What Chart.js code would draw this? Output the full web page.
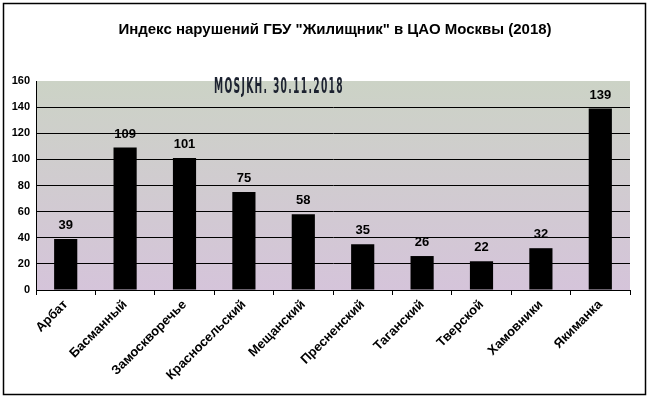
<!DOCTYPE html>
<html>
<head>
<meta charset="utf-8">
<script src="https://cdn.jsdelivr.net/npm/chart.js@4"></script>
<style>
  html, body { margin: 0; padding: 0; background: #fff; }
  #wrap { width: 649px; height: 398px; position: relative; }
</style>
</head>
<body>
<div id="wrap"><canvas id="plot" width="649" height="398"></canvas></div>
<script>
const districts = ['Арбат', 'Басманный', 'Замоскворечье', 'Красносельский', 'Мещанский',
  'Пресненский', 'Таганский', 'Тверской', 'Хамовники', 'Якиманка'];
const violations = [39, 109, 101, 75, 58, 35, 26, 22, 32, 139];
const yTicks = [0, 20, 40, 60, 80, 100, 120, 140, 160];
const titleText = 'Индекс нарушений ГБУ "Жилищник" в ЦАО Москвы (2018)';
const stampText = 'MOSJKH. 30.11.2018';

// frame, title, plot background, value labels
const decor = {
  id: 'decor',
  beforeDraw(chart) {
    const ctx = chart.ctx, a = chart.chartArea;
    ctx.save();
    const g = ctx.createLinearGradient(0, a.top, 0, a.bottom);
    g.addColorStop(0, '#ccd3c6');
    g.addColorStop(1, '#d5c4da');
    ctx.fillStyle = g;
    ctx.fillRect(a.left, a.top, a.right - a.left, a.bottom - a.top);
    ctx.restore();
  },
  afterDatasetsDraw(chart) {
    const ctx = chart.ctx;
    ctx.save();
    ctx.fillStyle = '#000';
    ctx.textAlign = 'center';
    ctx.textBaseline = 'bottom';
    ctx.font = 'bold 13px "Liberation Sans", Arial';
    chart.getDatasetMeta(0).data.forEach((bar, i) => {
      ctx.fillText(violations[i], bar.x, bar.y - 7);
    });
    ctx.font = 'bold 15px "Liberation Sans", Arial';
    ctx.textBaseline = 'middle';
    ctx.fillText(titleText, 335, 30);
    // narrow stamp text, squeezed to its width in the picture
    ctx.font = 'bold 21px "DejaVu Sans"';
    ctx.letterSpacing = '3px';
    const w = ctx.measureText(stampText).width;
    ctx.translate(214, 88);
    ctx.scale(130 / w, 1);
    ctx.fillStyle = '#1c2230';
    ctx.textAlign = 'left';
    ctx.fillText(stampText, 0, 0);
    ctx.setTransform(1, 0, 0, 1, 0, 0);
    ctx.letterSpacing = '0px';
    ctx.strokeStyle = '#000';
    ctx.lineWidth = 1.5;
    ctx.strokeRect(3.5, 3.5, 642, 391);
    ctx.restore();
  }
};

const config = {
  type: 'bar',
  data: {
    labels: districts,
    datasets: [{
      data: violations,
      backgroundColor: '#000',
      borderWidth: 0,
      categoryPercentage: 1,
      barPercentage: 0.39
    }]
  },
  options: {
    responsive: false,
    animation: false,
    layout: { padding: { left: 0, right: 19, top: 81, bottom: 0 } },
    plugins: { legend: { display: false }, tooltip: { enabled: false } },
    scales: {
      x: {
        afterFit(scale) { scale.height = 108; },
        grid: { display: true, drawOnChartArea: false, drawTicks: true, tickLength: 5, color: '#000', offset: true },
        border: { color: '#000', width: 1 },
        ticks: {
          color: '#000', minRotation: 45, maxRotation: 45, padding: 2,
          font: { family: '"Liberation Sans", Arial', size: 13, weight: 'bold' }
        }
      },
      y: {
        min: 0, max: 160,
        afterFit(scale) { scale.width = 36; },
        afterBuildTicks(scale) { scale.ticks = yTicks.map(v => ({ value: v })); },
        grid: {
          color: ctx => (ctx.tick && ctx.tick.value === 160 ? 'rgba(0,0,0,0)' : '#000'),
          drawTicks: false, lineWidth: 1
        },
        border: { color: '#000', width: 1 },
        ticks: {
          color: '#000', padding: 6,
          font: { family: '"Liberation Sans", Arial', size: 11, weight: 'bold' }
        }
      }
    }
  },
  plugins: [decor]
};

let ctx = document.getElementById('plot').getContext('2d');
let chart = new Chart(ctx, config);
</script>
</body>
</html>
